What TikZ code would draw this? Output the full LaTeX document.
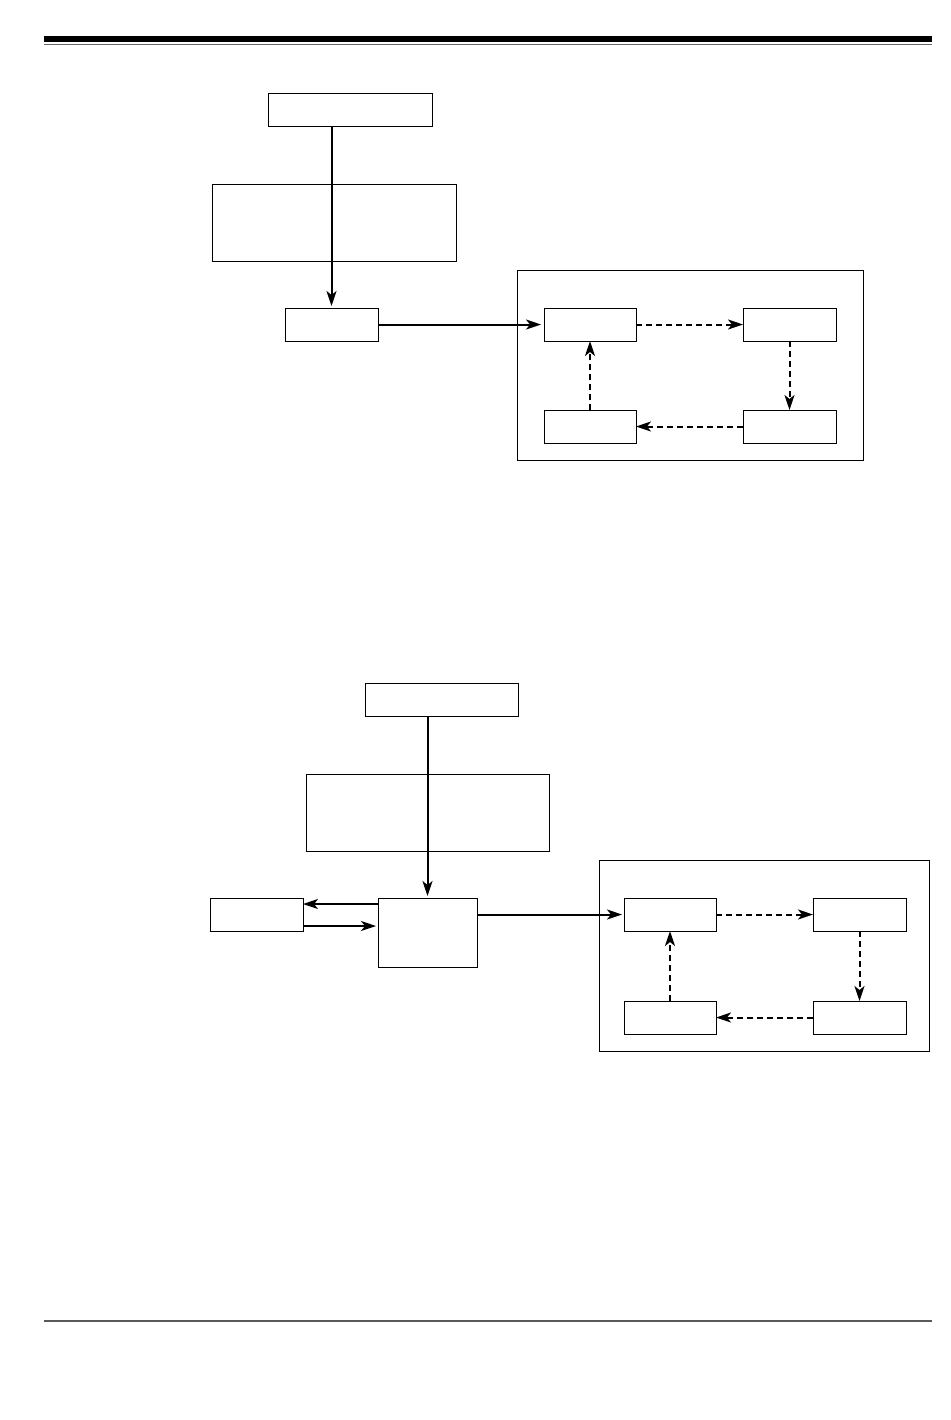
\documentclass[tikz,border=0pt]{standalone}
\usetikzlibrary{arrows.meta,calc}
\tikzset{
  box/.style={draw, line width=0.5pt, inner sep=0pt, outer sep=0pt},
  flow/.style={line width=1pt, -{Stealth[length=7.5pt,width=5pt,inset=2pt]}},
  loopflow/.style={flow, dash pattern=on 3pt off 2pt}
}
\begin{document}
\begin{tikzpicture}[x=0.5pt, y=-0.5pt]
			%%%%% START %%%%%
			\useasboundingbox (0, 0) rectangle (950, 1420);
			
			\fill[black] (44, 36) rectangle (932, 42);
			\draw[line width=0.9pt, color=black!60] (44, 44.5) -- (932, 44.5);
			
			% upper diagram
			\node[box, minimum width=82pt, minimum height=16.5pt] (src1) at (350, 109.5) {};
			\node[box, minimum width=122pt, minimum height=38.5pt] (note1) at (334, 222.5) {};
			\node[box, minimum width=46.5pt, minimum height=16.5pt] (proc1) at (331.5, 324.5) {};
			
			\node[box, minimum width=173pt, minimum height=95pt] (frame1) at (690, 365) {};
			\node[box, minimum width=46pt, minimum height=16.5pt] (s1a) at (590, 324.5) {};
			\node[box, minimum width=46.5pt, minimum height=16.5pt] (s1b) at (789.5, 324.5) {};
			\node[box, minimum width=46.5pt, minimum height=16.5pt] (s1c) at (789.5, 426.5) {};
			\node[box, minimum width=46pt, minimum height=16.5pt] (s1d) at (590, 426.5) {};
			
			\draw[flow] (src1.south -| proc1.north) -- ([yshift=1pt]proc1.north);
			\draw[flow] (proc1.east) -- ([xshift=-1.5pt]s1a.west);
			\draw[loopflow] (s1a.east) -- (s1b.west);
			\draw[loopflow] (s1b.south) -- (s1c.north);
			\draw[loopflow] (s1c.west) -- (s1d.east);
			\draw[loopflow] (s1d.north) -- (s1a.south);
			
			% lower diagram
			\node[box, minimum width=76.5pt, minimum height=16.5pt] (src2) at (441.5, 699.5) {};
			\node[box, minimum width=121.5pt, minimum height=38.5pt] (note2) at (427.5, 812.5) {};
			\node[box, minimum width=49.5pt, minimum height=34.5pt] (proc2) at (427.5, 932.5) {};
			\node[box, minimum width=46.5pt, minimum height=16.5pt] (aux2) at (256.5, 914.5) {};
			
			\node[box, minimum width=165pt, minimum height=95.5pt] (frame2) at (764, 955.5) {};
			\node[box, minimum width=46pt, minimum height=16.5pt] (s2a) at (670, 914.5) {};
			\node[box, minimum width=46.5pt, minimum height=16.5pt] (s2b) at (859.5, 914.5) {};
			\node[box, minimum width=46.5pt, minimum height=16.5pt] (s2c) at (859.5, 1017.5) {};
			\node[box, minimum width=46pt, minimum height=16.5pt] (s2d) at (670, 1017.5) {};
			
			\coordinate (aux2up) at ([yshift=5.25pt]aux2.east);
			\coordinate (aux2dn) at ([yshift=-5.75pt]aux2.east);
			
			\draw[flow] (src2.south -| proc2.north) -- ([yshift=1pt]proc2.north);
			\draw[flow] (aux2up -| proc2.west) -- (aux2up);
			\draw[flow] (aux2dn) -- ([xshift=-1pt]aux2dn -| proc2.west);
			\draw[flow] (s2a.west -| proc2.east) -- ([xshift=-1pt]s2a.west);
			\draw[loopflow] (s2a.east) -- (s2b.west);
			\draw[loopflow] (s2b.south) -- (s2c.north);
			\draw[loopflow] (s2c.west) -- (s2d.east);
			\draw[loopflow] (s2d.north) -- (s2a.south);
			
			\draw[line width=0.8pt, color=black!65] (44, 1321) -- (932, 1321);
			%%%%% END %%%%%
\end{tikzpicture}
\end{document}
